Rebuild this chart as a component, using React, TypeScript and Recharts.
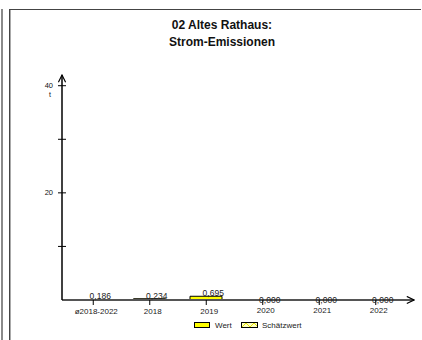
import React from 'react';
import { ComposedChart, Bar, Line, XAxis, YAxis, Cell, LabelList, Legend } from 'recharts';

const categories = ['ø2018-2022', '2018', '2019', '2020', '2021', '2022'];
const values = [0.186, 0.234, 0.695, 0, 0, 0];
const yTicks = [10, 20, 30, 40];
const yLabelled = [20, 40];
const unit = 't';
const titleLines = ['02 Altes Rathaus:', 'Strom-Emissionen'];
const legendItems = ['Wert', 'Schätzwert'];

const data = categories.map((name, i) => ({ name, value: values[i] }));

const FONT = 'Arial, "Liberation Sans", sans-serif';
const fmt = (v: number) => v.toFixed(3).replace('.', ',');

function YTick({ x, y, payload }: any) {
  const v = payload.value;
  return (
    <g>
      <line x1={x - 4} x2={x + 4} y1={y} y2={y} stroke="#000" strokeWidth={1} />
      {yLabelled.includes(v) && (
        <text x={x - 9} y={y} textAnchor="end" dominantBaseline="central" fontSize={7.5} fill="#111" fontFamily={FONT}>{v}</text>
      )}
      {v === yTicks[yTicks.length - 1] && (
        <text x={x - 12} y={y + 9} textAnchor="middle" dominantBaseline="central" fontSize={7} fill="#111" fontFamily={FONT}>{unit}</text>
      )}
    </g>
  );
}

function XTick({ x, y, payload }: any) {
  const idx = categories.indexOf(payload.value);
  const zero = values[idx] === 0;
  return (
    <g>
      <line x1={x} x2={x} y1={y} y2={y + 5} stroke="#000" strokeWidth={1} />
      <text x={x + 3} y={zero ? y + 10 : y + 11} textAnchor="middle" dominantBaseline="central" fontSize={8} fill="#222" fontFamily={FONT}>
        {payload.value}
      </text>
    </g>
  );
}

function ValueLabel({ x, y, value }: any) {
  const zero = value === 0;
  return (
    <text x={x + 7} y={zero ? y - 0.5 : y - 3} textAnchor="middle" dominantBaseline="central" fontSize={8.5} fill="#222" fontFamily={FONT}>
      {fmt(value)}
    </text>
  );
}

function LegendBox() {
  return (
    <svg width={120} height={10} style={{ display: 'block' }}>
      <defs>
        <clipPath id="estClip"><rect x={47} y={1} width={17} height={5} /></clipPath>
      </defs>
      <rect x={0.5} y={1.5} width={15} height={5} fill="#ffff00" stroke="#000" strokeWidth={1} />
      <text x={21} y={4.5} dominantBaseline="central" fontSize={8} fill="#222" fontFamily={FONT}>{legendItems[0]}</text>
      <rect x={47.5} y={1.5} width={16} height={5} fill="#ffffc0" stroke="#000" strokeWidth={1} />
      <polyline points="48,6 52,2 56,6 60,2 63,5" fill="none" stroke="#e0e000" strokeWidth={1} clipPath="url(#estClip)" />
      <text x={68} y={4.5} dominantBaseline="central" fontSize={8} fill="#222" fontFamily={FONT}>{legendItems[1]}</text>
    </svg>
  );
}

export default function App() {
  return (
    <div style={{ position: 'fixed', left: 0, top: 0, width: 422, height: 340, background: '#fff', overflow: 'hidden' }}>
      <div style={{ position: 'absolute', left: 1, top: 9, width: 2, bottom: 0, background: '#8a8a8a' }} />
      <div style={{ position: 'absolute', left: 9, top: 9, width: 1, bottom: 0, background: '#444' }} />
      <div style={{ position: 'absolute', left: 10, top: 9, width: 1, bottom: 0, background: '#aaa' }} />
      <div style={{ position: 'absolute', left: 9, top: 9, width: 412, height: 1, background: '#444' }} />
      <div style={{ position: 'absolute', left: 122, top: 17, width: 200, textAlign: 'center', fontFamily: FONT, fontWeight: 'bold', fontSize: 12, lineHeight: '17px', color: '#111' }}>
        {titleLines.map((t) => <div key={t}>{t}</div>)}
      </div>
      <div style={{ position: 'absolute', left: 0, top: 0 }}>
        <ComposedChart width={422} height={340} data={data} margin={{ top: 75, right: 8, bottom: 20, left: 12 }}>
          <defs>
            <marker id="arrow" viewBox="0 0 10 10" refX={9} refY={5} markerWidth={9} markerHeight={9} markerUnits="userSpaceOnUse" orient="auto-start-reverse">
              <path d="M1,1 L9,5 L1,9" fill="none" stroke="#000" strokeWidth={1.3} />
            </marker>
          </defs>
          <XAxis
            dataKey="name"
            height={20}
            padding={{ left: 3, right: 10 }}
            tickLine={false}
            tickSize={0}
            tickMargin={0}
            interval={0}
            axisLine={{ stroke: '#555', strokeWidth: 2, markerEnd: 'url(#arrow)' }}
            tick={<XTick />}
          />
          <YAxis
            width={50}
            domain={[0, 42]}
            ticks={yTicks}
            tickLine={false}
            tickSize={0}
            tickMargin={0}
            axisLine={{ stroke: '#000', strokeWidth: 1.5, markerStart: 'url(#arrow)' }}
            tick={<YTick />}
          />
          <Legend
            verticalAlign="middle"
            layout="horizontal"
            wrapperStyle={{ position: 'absolute', left: 194, top: 321, width: 130 }}
            content={() => <LegendBox />}
          />
          <Bar dataKey="value" barSize={32} fill="#ffff00" stroke="#000" strokeWidth={1} isAnimationActive={false}>
            {data.map((d, i) => (
              <Cell key={d.name} fillOpacity={i === 0 ? 0 : 1} strokeOpacity={i === 0 ? 0 : 1} />
            ))}
          </Bar>
          <Line dataKey="value" stroke="none" dot={false} activeDot={false} legendType="none" isAnimationActive={false}>
            <LabelList dataKey="value" content={<ValueLabel />} />
          </Line>
        </ComposedChart>
      </div>
    </div>
  );
}
